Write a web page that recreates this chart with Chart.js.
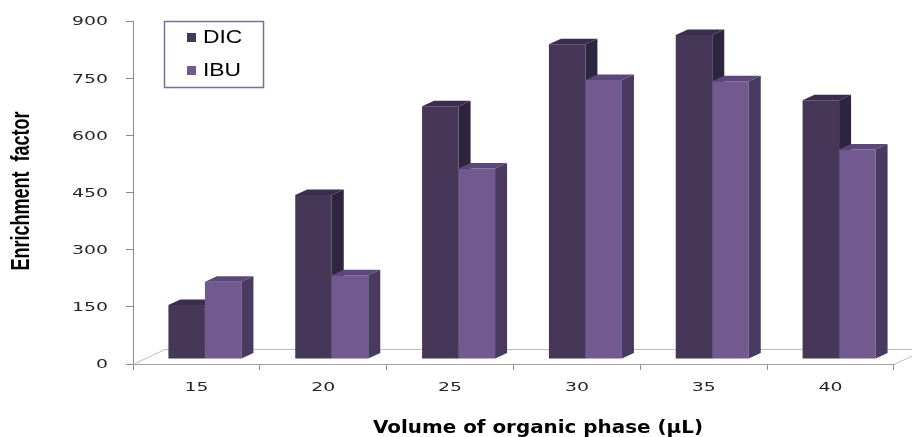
<!DOCTYPE html>
<html>
<head>
<meta charset="utf-8">
<title>Enrichment factor vs volume of organic phase</title>
<script src="https://cdn.jsdelivr.net/npm/chart.js@4/dist/chart.umd.min.js"></script>
<style>
  html, body { margin: 0; padding: 0; background: #ffffff; }
  canvas { display: block; }
</style>
</head>
<body>
<canvas id="chart" width="912" height="437"></canvas>
<script>
// ---- data ----
const categories = ['15', '20', '25', '30', '35', '40'];
const dicValues = [142, 430, 663, 826, 850, 679];
const ibuValues = [203, 220, 500, 732, 729, 550];
const yTicks = [0, 150, 300, 450, 600, 750, 900];
const seriesNames = ['DIC', 'IBU'];
const xTitle = 'Volume of organic phase (\u00B5L)';
const yTitle = 'Enrichment  factor';

// ---- styles ----
const faceColors = {
  DIC: { front: '#463658', side: '#2e243e', top: '#3b2d4c' },
  IBU: { front: '#72598f', side: '#4a3a60', top: '#5c4878' }
};
const BAR_SHIFT = { dx: 8.5, dy: -5 };   // bars sit midway into the floor depth
const BAR_DEPTH = { dx: 12, dy: -5.5 };  // visible depth of each column
const FLOOR_DEPTH = { dx: 32, dy: -15 };
const TEXT_STRETCH = 1.45;
const axisGray = '#8c8c8c';

function stretchedText(ctx, text, x, y, font, sx, align, baseline, color) {
  ctx.save();
  ctx.font = font;
  ctx.fillStyle = color;
  ctx.textAlign = align;
  ctx.textBaseline = baseline;
  ctx.translate(x, y);
  ctx.scale(sx, 1);
  ctx.fillText(text, 0, 0);
  ctx.restore();
}

// Floor of the 3D plot, drawn behind the columns
const floorPlugin = {
  id: 'floor3d',
  beforeDatasetsDraw(chart) {
    const { ctx, chartArea: a } = chart;
    ctx.save();
    ctx.strokeStyle = '#bdbdbd';
    ctx.lineWidth = 1;
    ctx.beginPath();
    ctx.moveTo(a.left, a.bottom + 0.5);
    ctx.lineTo(a.left + FLOOR_DEPTH.dx, a.bottom + FLOOR_DEPTH.dy + 0.5);
    ctx.lineTo(a.right + FLOOR_DEPTH.dx, a.bottom + FLOOR_DEPTH.dy + 0.5);
    ctx.moveTo(a.right, a.bottom + 0.5);
    ctx.lineTo(a.right + FLOOR_DEPTH.dx, a.bottom + FLOOR_DEPTH.dy + 0.5);
    ctx.stroke();
    ctx.restore();
  }
};

// Top and side faces of one dataset's columns
function drawFaces(chart, index) {
  const ctx = chart.ctx;
  const ds = chart.data.datasets[index];
  const colors = faceColors[ds.label];
  chart.getDatasetMeta(index).data.forEach((bar) => {
    const p = bar.getProps(['x', 'y', 'base', 'width'], true);
    const l = p.x - p.width / 2, r = p.x + p.width / 2;
    const t = Math.min(p.y, p.base), b = Math.max(p.y, p.base);
    ctx.fillStyle = colors.top;
    ctx.beginPath();
    ctx.moveTo(l, t);
    ctx.lineTo(l + BAR_DEPTH.dx, t + BAR_DEPTH.dy);
    ctx.lineTo(r + BAR_DEPTH.dx, t + BAR_DEPTH.dy);
    ctx.lineTo(r, t);
    ctx.closePath();
    ctx.fill();
    ctx.fillStyle = colors.side;
    ctx.beginPath();
    ctx.moveTo(r, t);
    ctx.lineTo(r + BAR_DEPTH.dx, t + BAR_DEPTH.dy);
    ctx.lineTo(r + BAR_DEPTH.dx, b + BAR_DEPTH.dy);
    ctx.lineTo(r, b);
    ctx.closePath();
    ctx.fill();
  });
}

// The library draws the front faces (last dataset first); the left series'
// depth faces go in before the right series' fronts so those cover them.
const columnsPlugin = {
  id: 'columns3d',
  beforeDatasetDraw(chart, args) {
    chart.ctx.save();
    chart.ctx.translate(BAR_SHIFT.dx, BAR_SHIFT.dy);
    if (args.index > 0) drawFaces(chart, args.index - 1);
  },
  afterDatasetDraw(chart, args) {
    if (args.index > 0) drawFaces(chart, args.index);
    chart.ctx.restore();
  }
};

// Tick labels, axis titles and the boxed legend
const textPlugin = {
  id: 'chartText',
  afterDraw(chart) {
    const { ctx } = chart;
    const ys = chart.scales.y, xs = chart.scales.x;
    const tickFont = '13px "DejaVu Sans", Verdana, sans-serif';

    ys.ticks.forEach((tk) => {
      stretchedText(ctx, String(tk.value), ys.right - 25, ys.getPixelForValue(tk.value) + 1,
        tickFont, TEXT_STRETCH, 'right', 'middle', '#262626');
    });
    xs.ticks.forEach((tk, i) => {
      stretchedText(ctx, xs.getLabelForValue(tk.value), xs.getPixelForTick(i), xs.top + 24,
        tickFont, TEXT_STRETCH, 'center', 'middle', '#262626');
    });

    // y title, rotated
    ctx.save();
    ctx.font = 'bold 18px "Liberation Sans", Arial, sans-serif';
    ctx.fillStyle = '#000000';
    ctx.textAlign = 'center';
    ctx.textBaseline = 'middle';
    ctx.translate(22, 191);
    ctx.scale(TEXT_STRETCH, 1);
    ctx.rotate(-Math.PI / 2);
    ctx.fillText(yTitle, 0, 0);
    ctx.restore();

    // x title, fitted to its width
    ctx.save();
    const xFont = 'bold 18px "DejaVu Sans", Verdana, sans-serif';
    ctx.font = xFont;
    const w = ctx.measureText(xTitle).width;
    ctx.restore();
    stretchedText(ctx, xTitle, 538, 433, xFont, 330 / w, 'center', 'alphabetic', '#000000');

    // legend box
    ctx.save();
    ctx.strokeStyle = '#7e6c96';
    ctx.lineWidth = 1.5;
    ctx.strokeRect(164.5, 21.5, 99, 66);
    ctx.restore();
    chart.data.datasets.forEach((ds, i) => {
      const cy = 37.5 + i * 33;
      ctx.fillStyle = ds.backgroundColor;
      ctx.fillRect(187, cy - 4.5, 9, 9);
      stretchedText(ctx, ds.label, 203, cy + 1, '18px "Liberation Sans", Arial, sans-serif',
        1.27, 'left', 'middle', '#000000');
    });
  }
};

new Chart(document.getElementById('chart'), {
  type: 'bar',
  data: {
    labels: categories,
    datasets: [
      { label: seriesNames[0], data: dicValues, backgroundColor: faceColors.DIC.front },
      { label: seriesNames[1], data: ibuValues, backgroundColor: faceColors.IBU.front }
    ]
  },
  options: {
    responsive: false,
    animation: false,
    events: [],
    layout: { padding: { left: 0, right: 18, top: 21, bottom: 0 } },
    datasets: { bar: { categoryPercentage: 0.5756, barPercentage: 1.0, borderWidth: 0 } },
    plugins: { legend: { display: false }, title: { display: false }, tooltip: { enabled: false } },
    scales: {
      x: {
        afterFit(s) { s.height = 73; },
        grid: { offset: true, drawOnChartArea: false, drawTicks: true, tickLength: 6, color: axisGray },
        border: { color: '#a0a0a0' },
        ticks: { display: false }
      },
      y: {
        min: yTicks[0],
        max: yTicks[yTicks.length - 1],
        afterFit(s) { s.width = 133; },
        afterBuildTicks(s) { s.ticks = yTicks.map((v) => ({ value: v })); },
        grid: { drawOnChartArea: false, drawTicks: true, tickLength: 7, color: axisGray },
        border: { color: axisGray },
        ticks: { display: false }
      }
    }
  },
  plugins: [floorPlugin, columnsPlugin, textPlugin]
});
</script>
</body>
</html>
